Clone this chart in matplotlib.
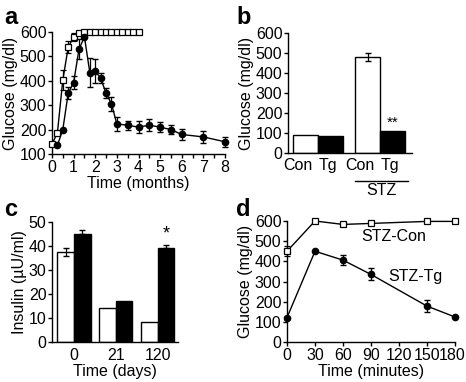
import matplotlib
matplotlib.use("Agg")
import matplotlib.pyplot as plt
import matplotlib.transforms as mtransforms
import numpy as np

plt.rcParams['font.family'] = ['Liberation Sans', 'DejaVu Sans']
plt.rcParams['font.size'] = 11.5

# panel a: glucose over months
a_con_t = [0, 0.25, 0.5, 0.75, 1.0, 1.25, 1.5, 1.75, 2.0, 2.25, 2.5, 2.75, 3.0, 3.25, 3.5, 3.75, 4.0]
a_con_y = [140, 187, 403, 538, 580, 595, 600, 600, 600, 600, 600, 600, 600, 600, 600, 600, 600]
a_con_e = [0, 0, 40, 25, 15, 0, 0, 0, 0, 0, 0, 0, 0, 0, 0, 0, 0]
a_tg_t = [0.25, 0.5, 0.75, 1.0, 1.25, 1.5, 1.75, 2.0, 2.25, 2.5, 2.75, 3.0, 3.5, 4.0, 4.5, 5.0, 5.5, 6.0, 7.0, 8.0]
a_tg_y = [135, 200, 350, 393, 530, 580, 433, 440, 410, 350, 305, 223, 218, 210, 218, 210, 200, 180, 170, 150]
a_tg_e = [0, 0, 25, 25, 40, 0, 60, 50, 20, 20, 30, 30, 18, 25, 25, 20, 18, 22, 25, 20]

# panel b: glucose bars
b_labels = ['Con', 'Tg', 'Con', 'Tg']
b_vals = [90, 85, 480, 110]
b_err = [0, 0, 22, 0]
b_colors = ['white', 'black', 'white', 'black']

# panel c: insulin bars
c_days = ['0', '21', '120']
c_con = [37.5, 14, 8.5]
c_con_e = [1.5, 0, 0]
c_tg = [45, 17, 39]
c_tg_e = [1.5, 0, 1.5]

# panel d: glucose over minutes
d_t = [0, 30, 60, 90, 150, 180]
d_con = [450, 600, 583, 588, 598, 598]
d_con_e = [25, 0, 0, 0, 0, 0]
d_tg = [121, 450, 406, 335, 178, 124]
d_tg_e = [0, 0, 25, 30, 30, 0]

W, H = 466, 382
fig = plt.figure(figsize=(W / 100, H / 100), dpi=100)


def box(l, r, t, b):
    return [l / W, (H - b) / H, (r - l) / W, (b - t) / H]


def style(ax):
    for s in ['top', 'right']:
        ax.spines[s].set_visible(False)
    for s in ['left', 'bottom']:
        ax.spines[s].set_linewidth(1.0)
    ax.tick_params(direction='out', length=3, width=1.0, pad=1)


# ---- a ----
ax = fig.add_axes(box(52, 225, 32, 154))
style(ax)
ax.errorbar(a_con_t, a_con_y, yerr=a_con_e, color='black', lw=1, marker='s', ms=4.2,
            mfc='white', mec='black', mew=0.9, capsize=2, elinewidth=0.9, clip_on=False, zorder=3)
ax.errorbar(a_tg_t, a_tg_y, yerr=a_tg_e, color='black', lw=1, marker='o', ms=4.5,
            mfc='black', capsize=2, elinewidth=0.9, clip_on=False, zorder=4)
ax.set_xlim(0, 8)
ax.set_ylim(100, 600)
ax.set_xticks(np.arange(0, 8.01, 0.5), minor=True)
ax.set_xticks(range(0, 9))
ax.tick_params(which='minor', length=3, width=1.0)
ax.set_yticks(range(100, 601, 100))
ax.set_xlabel('Time (months)', labelpad=1)
ax.set_ylabel('Glucose (mg/dl)', labelpad=1)

# ---- b ----
ax = fig.add_axes(box(288, 412, 33, 153))
style(ax)
b_x = [0, 1, 2.5, 3.5]
ax.bar(b_x, b_vals, width=1.0, color=b_colors, edgecolor='black', linewidth=1)
ax.errorbar(b_x[2], b_vals[2], yerr=b_err[2], color='black', capsize=2, elinewidth=0.9, fmt='none')
ax.text(b_x[3], b_vals[3] + 5, '**', ha='center', va='bottom', fontsize=11)
ax.set_xlim(-0.71, 4.27)
ax.set_ylim(0, 600)
ax.set_yticks(range(0, 601, 100))
ax.set_xticks([])
for x, lab in zip(b_x, b_labels):
    if lab == 'Con':
        ax.text(x + 0.26, -25, lab, ha='right', va='top')
    else:
        ax.text(x - 0.5, -25, lab, ha='left', va='top')
ax.plot([2.0, 4.1], [-140, -140], color='black', lw=1, clip_on=False)
ax.text(3.05, -150, 'STZ', ha='center', va='top')
ax.set_ylabel('Glucose (mg/dl)', labelpad=1)

# ---- c ----
ax = fig.add_axes(box(52, 178, 222, 342))
style(ax)
cx = np.arange(len(c_days))
bw = 0.4
ax.bar(cx - bw / 2, c_con, width=bw, color='white', edgecolor='black', linewidth=1)
ax.bar(cx + bw / 2, c_tg, width=bw, color='black', edgecolor='black', linewidth=1)
for i in range(len(c_days)):
    if c_con_e[i]:
        ax.errorbar(cx[i] - bw / 2, c_con[i], yerr=c_con_e[i], color='black', capsize=2,
                    elinewidth=0.9, fmt='none')
    if c_tg_e[i]:
        ax.errorbar(cx[i] + bw / 2, c_tg[i], yerr=[[0], [c_tg_e[i]]], color='black', capsize=2,
                    elinewidth=0.9, fmt='none')
ax.text(cx[2] + bw / 2, 41.5, '*', ha='center', va='bottom', fontsize=13)
ax.set_xlim(-0.526, 2.49)
ax.set_ylim(0, 50)
ax.set_yticks(range(0, 51, 10))
ax.set_xticks(cx)
ax.set_xticklabels(c_days)
ax.tick_params(axis='x', length=0, pad=4)
ax.set_xlabel('Time (days)', labelpad=1)
ax.set_ylabel('Insulin (\u00b5U/ml)', labelpad=1)

# ---- d ----
ax = fig.add_axes(box(287, 455, 221, 342))
style(ax)
ax.errorbar(d_t, d_con, yerr=d_con_e, color='black', lw=1, marker='s', ms=4.2,
            mfc='white', mec='black', mew=0.9, capsize=2, elinewidth=0.9, clip_on=False, zorder=3)
ax.errorbar(d_t, d_tg, yerr=d_tg_e, color='black', lw=1, marker='o', ms=4.5,
            mfc='black', capsize=2, elinewidth=0.9, clip_on=False, zorder=4)
ax.text(114, 525, 'STZ-Con', ha='center', va='center')
ax.text(138, 324, 'STZ-Tg', ha='center', va='center')
ax.set_xlim(0, 180)
ax.set_ylim(0, 600)
ax.set_xticks(range(0, 181, 30))
ax.set_yticks(range(0, 601, 100))
ax.set_xlabel('Time (minutes)', labelpad=1)
ax.set_ylabel('Glucose (mg/dl)', labelpad=1)
fig.canvas.draw()
last = ax.get_xticklabels()[-1]
last.set_transform(last.get_transform() + mtransforms.ScaledTranslation(-3 / 100, 0, fig.dpi_scale_trans))

# panel letters
for lab, x, y in [('a', 4, 6), ('b', 236, 6), ('c', 4, 198), ('d', 236, 198)]:
    fig.text(x / W, 1 - y / H, lab, fontsize=17, fontweight='bold', va='top', ha='left')

fig.savefig('out.png', dpi=100)
